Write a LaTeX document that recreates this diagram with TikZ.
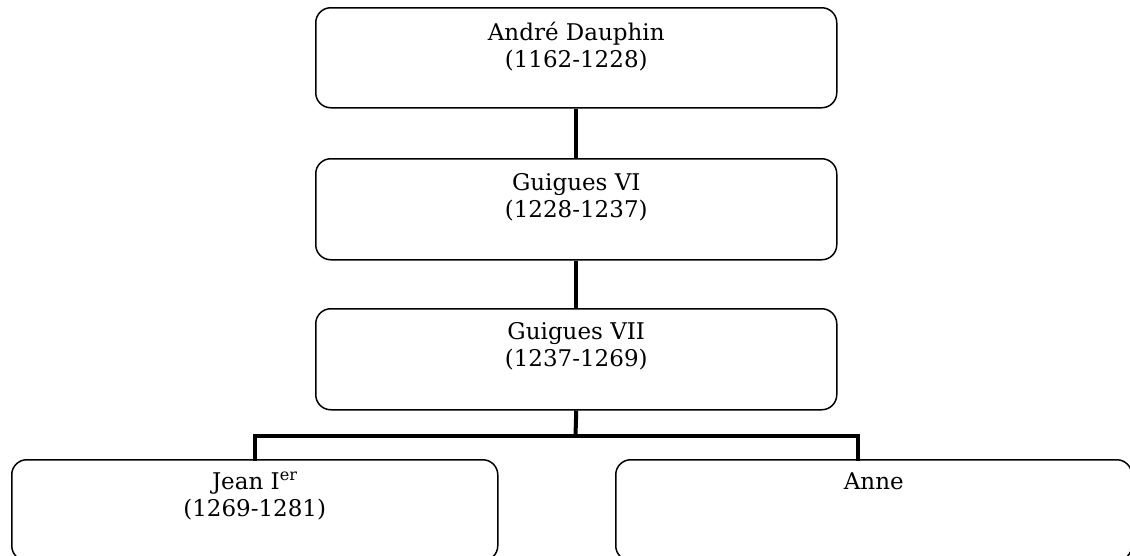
\documentclass[tikz,border=0pt]{standalone}
\usepackage{fontspec}
\setmainfont{DejaVu Serif}
\newcommand{\toprule}{\rule{0pt}{20pt}}
\begin{document}
\begin{tikzpicture}[x=1pt,y=-1pt,
  box/.style={draw=black, line width=1.5pt, rounded corners=15pt, anchor=north west, inner sep=0pt},
  txt/.style={anchor=north, align=center, inner sep=0pt, font=\fontsize{23}{27}\selectfont},
  conn/.style={draw=black, line width=4pt}]
\useasboundingbox (0,0) rectangle (1130,555);
\clip (0,0) rectangle (1130,555);
\fill[white] (0,0) rectangle (1130,555);
\node[box, minimum width=521pt, minimum height=100pt] (a) at (315,7) {};
\node[box, minimum width=521pt, minimum height=101pt] (b) at (315,158) {};
\node[box, minimum width=521pt, minimum height=101pt] (c) at (315,308) {};
\node[box, minimum width=486pt, minimum height=101pt] (d) at (11,459) {};
\node[box, minimum width=516pt, minimum height=101pt] (e) at (615,459) {};
\node[txt] (at) at ([yshift=-13pt]a.north) {\toprule André Dauphin\\(1162-1228)};
\node[txt] (bt) at ([yshift=-12pt]b.north) {\toprule Guigues VI\\(1228-1237)};
\node[txt] (ct) at ([yshift=-11pt]c.north) {\toprule Guigues VII\\(1237-1269)};
\node[txt] (dt) at ([yshift=-10pt]d.north) {\toprule Jean I\textsuperscript{er}\\(1269-1281)};
\node[txt] (et) at ([yshift=-10pt]e.north) {\toprule Anne};
\coordinate (j) at (575.5,436);
\coordinate (eN) at (858,459);
\draw[conn] (a.south) -- (b.north);
\draw[conn] (b.south) -- (c.north);
\draw[conn] (c.south) -- (j);
\draw[conn, line cap=rect] (d.north) -- (d.north |- j) -- (j -| eN) -- (eN);
\end{tikzpicture}
\end{document}
